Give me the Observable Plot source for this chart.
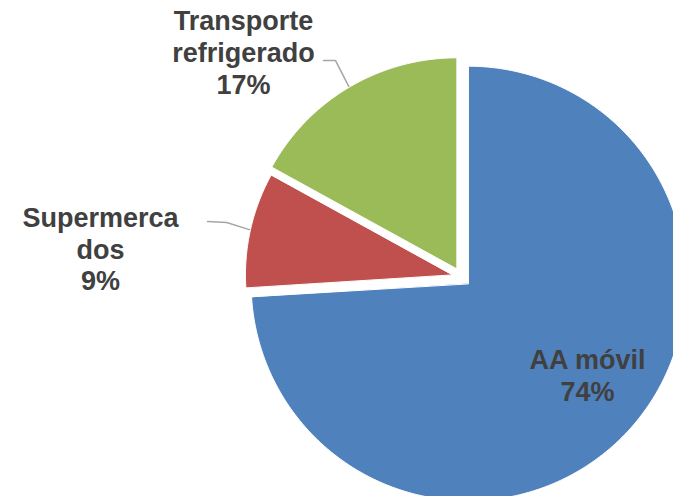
<!DOCTYPE html>
<html>
<head>
<meta charset="utf-8">
<script src="https://cdn.jsdelivr.net/npm/d3@7"></script>
<script src="https://cdn.jsdelivr.net/npm/@observablehq/plot@0.6"></script>
<style>
  html, body { margin: 0; padding: 0; background: #fff; }
  #chart svg { display: block; }
</style>
</head>
<body>
<div id="chart"></div>
<script>
// ---- data ----
const categories = ["AA móvil", "Supermercados", "Transporte refrigerado"];
const shares = [74, 9, 17];
const labelNames = ["AA móvil", "Supermerca\ndos", "Transporte\nrefrigerado"];

// ---- style / layout ----
const colors = ["#4F81BD", "#C0504D", "#9BBB59"];
const W = 673, H = 496;
const pxPerUnit = 212;
const centerPx = [461, 276.5];
const explode = 0.045;                  // slice offset (units)
const sliceRadius = [1.025, 0.975, 0.995];
const labelPos = [[0.594, 0.462], [-1.703, -0.133], [-1.028, -1.062]];
const leaderPath = [null, [[-1.198, -0.262], [-1.108, -0.257]], [[-0.651, -1.021], [-0.594, -1.021]]];

const pie = d3.pie().sort(null).value(d => d)(shares);

const slicePts = [];
const labels = [];
const leaders = [];
pie.forEach((p, i) => {
  const mid = (p.startAngle + p.endAngle) / 2;
  const ox = explode * Math.sin(mid), oy = -explode * Math.cos(mid);
  const r = sliceRadius[i];
  slicePts.push({cat: categories[i], x: ox, y: oy});
  const n = Math.max(4, Math.ceil((p.endAngle - p.startAngle) / (Math.PI / 360)));
  for (let k = 0; k <= n; k++) {
    const a = p.startAngle + (p.endAngle - p.startAngle) * k / n;
    slicePts.push({cat: categories[i], x: ox + r * Math.sin(a), y: oy - r * Math.cos(a)});
  }
  labels.push({x: labelPos[i][0], y: labelPos[i][1], text: labelNames[i] + "\n" + shares[i] + "%"});
  if (leaderPath[i]) {
    leaderPath[i].forEach(([x, y]) => leaders.push({cat: categories[i], x, y}));
    leaders.push({cat: categories[i], x: ox + r * 1.005 * Math.sin(mid), y: oy - r * 1.005 * Math.cos(mid)});
  }
});

const chart = Plot.plot({
  width: W,
  height: H,
  margin: 0,
  x: {domain: [-centerPx[0] / pxPerUnit, (W - centerPx[0]) / pxPerUnit], range: [0, W], axis: null},
  y: {domain: [-centerPx[1] / pxPerUnit, (H - centerPx[1]) / pxPerUnit], range: [0, H], axis: null},
  color: {domain: categories, range: colors},
  style: {background: "#fff"},
  marks: [
    Plot.line(slicePts, {x: "x", y: "y", z: "cat", fill: "cat", stroke: "#fff", strokeWidth: 1, curve: "linear-closed"}),
    Plot.line(leaders, {x: "x", y: "y", z: "cat", stroke: "#A6A6A6", strokeWidth: 1.5}),
    Plot.text(labels, {x: "x", y: "y", text: "text", fontSize: 27, fontWeight: "bold",
      fontFamily: "Liberation Sans, Arial, sans-serif", fill: "#404040", lineHeight: 1.17, lineAnchor: "middle"})
  ]
});
document.getElementById("chart").appendChild(chart);
</script>
</body>
</html>
